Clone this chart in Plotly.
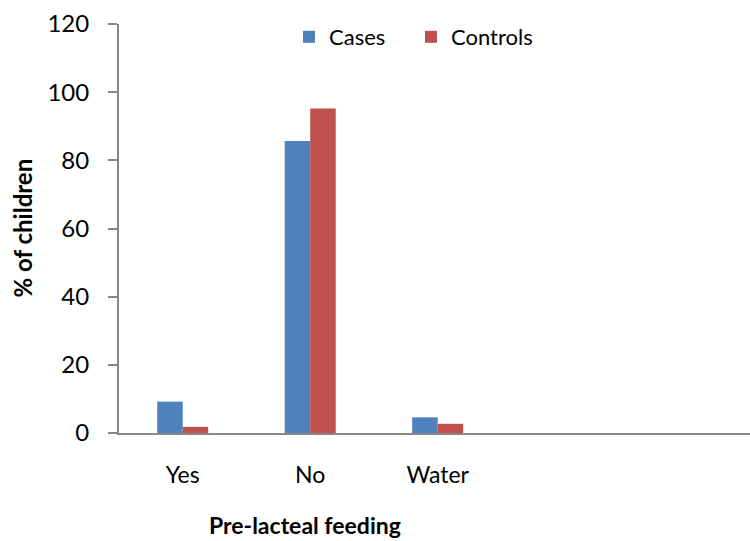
import plotly.graph_objects as go

categories = ["Yes", "No", "Water"]
cases = [9.2, 85.7, 4.6]
controls = [1.8, 95.2, 2.7]
y_ticks = [0, 20, 40, 60, 80, 100, 120]

W, H = 750, 541
L, R, T, B = 119, 0, 24, 108
FONT = "Lato"

xpos = list(range(len(categories)))

fig = go.Figure()
fig.add_trace(go.Bar(x=xpos, y=cases, name="Cases", marker=dict(color="#4F81BD", line=dict(width=0))))
fig.add_trace(go.Bar(x=xpos, y=controls, name="Controls", marker=dict(color="#C0504D", line=dict(width=0))))

fig.update_layout(
    width=W, height=H,
    margin=dict(l=L, r=R, t=T, b=B),
    paper_bgcolor="white", plot_bgcolor="white",
    barmode="group", bargap=0.6, bargroupgap=0,
    font=dict(family=FONT, size=22, color="#000000"),
    showlegend=True,
    legend=dict(orientation="h", x=(289 - L) / (W - L - R), xanchor="left",
                y=1.0 - 13 / (H - T - B), yanchor="middle",
                entrywidth=77, entrywidthmode="pixels",
                font=dict(family=FONT, size=22), bgcolor="rgba(0,0,0,0)",
                traceorder="normal", itemsizing="constant"),
    xaxis=dict(range=[-0.5, 4.45], tickvals=xpos, ticktext=categories,
               showgrid=False, zeroline=False, showline=True, linecolor="#888888", linewidth=2,
               ticks="", ticklabelstandoff=20, tickfont=dict(family=FONT, size=23)),
    yaxis=dict(range=[0, 120], tickvals=y_ticks, showgrid=False, zeroline=False,
               showline=True, linecolor="#888888", linewidth=2,
               ticks="outside", ticklen=9, tickcolor="#888888", tickwidth=2,
               ticklabelstandoff=14, tickfont=dict(family=FONT, size=24)),
    annotations=[
        dict(text="<b>% of children</b>", xref="paper", yref="paper",
             x=(22 - L) / (W - L - R), y=0.5, xanchor="center", yanchor="middle",
             textangle=-90, showarrow=False, font=dict(family=FONT, size=24)),
        dict(text="<b>Pre-lacteal feeding</b>", xref="paper", yref="paper",
             x=(305 - L) / (W - L - R), y=-(525 - (H - B)) / (H - T - B),
             xanchor="center", yanchor="middle", showarrow=False,
             font=dict(family=FONT, size=23)),
    ],
)

fig.write_html("out.html")
